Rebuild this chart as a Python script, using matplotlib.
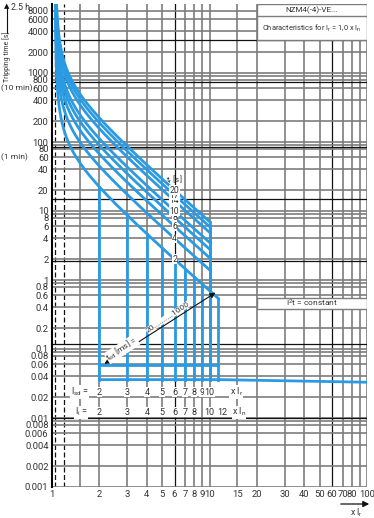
import numpy as np
import matplotlib
matplotlib.use('Agg')
import matplotlib.pyplot as plt
from matplotlib.patches import Rectangle

plt.rcParams['font.family'] = ['Liberation Sans Narrow', 'Roboto', 'DejaVu Sans']
plt.rcParams['mathtext.fontset'] = 'custom'
plt.rcParams['mathtext.rm'] = 'Roboto'
plt.rcParams['mathtext.it'] = 'Roboto'

BLUE = '#2a9be3'
GRAY = '#7d7d7d'
TXT = '#333333'

# curve parameters
tr_values = [2, 4, 6, 8, 10, 14, 17, 20]          # t_r [s] = time at 6 x Ir
isd_values = [2, 3, 4, 5, 6, 7, 8, 9, 10]         # short-time pick-up (x Ir)
ii_values = [2, 3, 4, 5, 6, 7, 8, 10, 12]         # instantaneous (x In)
tsd_upper = 0.058
tsd_lower = 0.036
tsd_end = 0.033
x_last = 11.4
bend_a = 1.05
bend_b = 0.3

x_ticks = [1, 2, 3, 4, 5, 6, 7, 8, 9, 10, 15, 20, 30, 40, 50, 60, 70, 80, 100]
y_ticks = [8000, 6000, 4000, 2000, 1000, 800, 600, 400, 200, 100, 80, 60, 40, 20,
           10, 8, 6, 4, 2, 1, 0.8, 0.6, 0.4, 0.2, 0.1, 0.08, 0.06, 0.04, 0.02,
           0.01, 0.008, 0.006, 0.004, 0.002, 0.001]
y_tick_labels = ['8000', '6000', '4000', '2000', '1000', '800', '600', '400', '200', '100',
                 '80', '60', '40', '20', '10', '8', '6', '4', '2', '1', '0.8', '0.6', '0.4',
                 '0.2', '0.1', '0.08', '0.06', '0.04', '0.02', '0.01', '0.008', '0.006',
                 '0.004', '0.002', '0.001']

xgrid_gray = [1.5, 2, 3, 4, 5, 7, 8, 9, 10, 15, 20, 30, 40, 50, 70, 80, 90, 100]
xgrid_black = [6, 60]
xgrid_dashed = [1.05, 1.2]
ygrid_gray = [m * 10.0 ** n for n in range(-3, 4) for m in (1, 2, 4, 6, 8, 0.9)]
ygrid_black = [3000, 750, 85, 15, 1.9, 0.12, 0.01]


def thermal(x, tr):
    f = (1 + bend_b / (x - bend_a)) / (1 + bend_b / (6 - bend_a))
    return tr * 36 / x ** 2 * f


fig = plt.figure(figsize=(3.74, 5.18), dpi=100)
W, H = 374, 518
ax = fig.add_axes([52 / W, 31 / H, 315 / W, 483 / H])
ax.set_xscale('log')
ax.set_yscale('log')
ax.set_xlim(1, 100)
ax.set_ylim(0.001, 10000)
for s in ['top', 'right', 'bottom']:
    ax.spines[s].set_visible(False)
ax.spines['left'].set_linewidth(1.5)
ax.spines['left'].set_zorder(6)

# grid
for v in xgrid_gray:
    ax.axvline(v, color=GRAY, lw=1.2, zorder=1)
for v in xgrid_black:
    ax.axvline(v, color='#111111', lw=0.9, zorder=1)
for v in xgrid_dashed:
    ax.axvline(v, color='#111111', lw=0.9, ls=(0, (4, 2)), zorder=1)
for v in ygrid_gray:
    if 0.001 <= v <= 10000:
        ax.axhline(v, color=GRAY, lw=1.2, zorder=1)
for v in ygrid_black:
    ax.axhline(v, color='#111111', lw=0.9, zorder=1)

# thermal curves
for tr in tr_values:
    xs = np.geomspace(bend_a + 1e-4, 12, 2000)
    ts = thermal(xs, tr)
    x_stop = x_last if tr == tr_values[0] else 10
    keep = (ts <= 12000) & (xs <= x_stop)
    ax.plot(xs[keep], ts[keep], color=BLUE, lw=2.0, zorder=3)
    ax.plot([x_stop, x_stop], [thermal(x_stop, tr), tsd_lower], color=BLUE, lw=2.0, zorder=3)

# short-time pick-up verticals
for isd in isd_values:
    ax.plot([isd, isd], [thermal(isd, tr_values[0]), tsd_lower], color=BLUE, lw=2.0, zorder=3)

# short-time delay levels
ax.plot([isd_values[0], x_last], [tsd_upper, tsd_upper], color=BLUE, lw=2.0, zorder=3)
ax.plot([isd_values[0], x_last, 100], [tsd_lower, tsd_lower, tsd_end], color=BLUE, lw=2.0, zorder=3)

# ticks
ax.set_xticks(x_ticks)
ax.set_xticklabels([str(v) for v in x_ticks])
ax.set_xticks([], minor=True)
ax.set_yticks(y_ticks)
ax.set_yticklabels(y_tick_labels)
ax.set_yticks([], minor=True)
ax.tick_params(length=0, labelsize=6.8, colors=TXT, pad=2.5)

bw = dict(facecolor='white', edgecolor='none', pad=0.2)

# t_r labels
ax.text(6, 23, r'$\mathrm{t_r}$ [s]', fontsize=5.8, color=TXT, ha='center', va='bottom', zorder=5)
for tr in tr_values:
    ax.text(6, tr, str(tr), fontsize=6.2, color=TXT, ha='center', va='center', bbox=bw, zorder=5)

# t_sd arrow
ax.annotate('', xy=(2.08, tsd_upper), xytext=(11.3, 0.69),
            arrowprops=dict(arrowstyle='<|-|>', color='#111111', lw=0.8, mutation_scale=8),
            zorder=5)
ax.text(2.78, 0.1, r'$\mathrm{t_{sd}}$ [ms] =', fontsize=6, color=TXT, rotation=33.5,
        ha='center', va='center', bbox=bw, zorder=6)
ax.text(5.45, 0.29, '20..........1000', fontsize=6, color=TXT, rotation=33.5,
        ha='center', va='center', bbox=bw, zorder=6)

# setting rows
ax.text(1.5, 0.0238, r'$\mathrm{I_{sd}}$ =', fontsize=6.5, color=TXT, ha='center', va='center', bbox=bw, zorder=5)
for v in isd_values:
    ax.text(v, 0.0238, str(v), fontsize=6.5, color=TXT, ha='center', va='center', bbox=bw, zorder=5)
ax.text(14.8, 0.0238, r'x $\mathrm{I_r}$', fontsize=6.5, color=TXT, ha='center', va='center', bbox=bw, zorder=5)
ax.text(1.53, 0.0122, r'$\mathrm{I_i}$ =', fontsize=6.5, color=TXT, ha='center', va='center', bbox=bw, zorder=5)
for v in ii_values:
    ax.text(v, 0.0122, str(v), fontsize=6.5, color=TXT, ha='center', va='center', bbox=bw, zorder=5)
ax.text(15.4, 0.0122, r'x $\mathrm{I_n}$', fontsize=6.5, color=TXT, ha='center', va='center', bbox=bw, zorder=5)

# boxes
ax.add_patch(Rectangle((20, 3000), 80, 7000, facecolor='white', edgecolor=GRAY, lw=1.0, zorder=4))
ax.plot([20, 100], [6700, 6700], color=GRAY, lw=1.0, zorder=4)
ax.text(44.7, 8185, 'NZM4(-4)-VE...', fontsize=5.8, color=TXT, ha='center', va='center', zorder=5)
ax.text(44.7, 4480, r'Characteristics for $\mathrm{I_r}$ = 1,0 x $\mathrm{I_n}$', fontsize=5.4,
        color=TXT, ha='center', va='center', zorder=5)
ax.add_patch(Rectangle((20, 0.38), 80, 0.17, facecolor='white', edgecolor=GRAY, lw=1.0, zorder=4))
ax.text(44.7, 0.457, r'$\mathrm{I^2}$t = constant', fontsize=6, color=TXT, ha='center', va='center', zorder=5)

# left-side annotations
ax.text(-0.162, 600, '(10 min)', transform=ax.get_yaxis_transform(), fontsize=6, color=TXT,
        ha='left', va='center')
ax.text(-0.162, 60, '(1 min)', transform=ax.get_yaxis_transform(), fontsize=6, color=TXT,
        ha='left', va='center')
fig.text(7 / W, 1 - 57 / H, 'Tripping time [s]', rotation=90, fontsize=5.0, color=TXT,
         ha='center', va='center')
fig.add_artist(plt.Line2D([7 / W, 7 / W], [1 - 33 / H, 1 - 6 / H], color='#111111', lw=0.8))
fig.text(7 / W, 1 - 6 / H, '\u25B2', fontsize=5, color='#111111', ha='center', va='center',
         family='DejaVu Sans')
fig.text(11 / W, 1 - 7 / H, '2.5 h', fontsize=6.3, color=TXT, ha='left', va='center')

# bottom x Ir arrow
ax.annotate('', xy=(372 / W, 1 - 504 / H), xytext=(338 / W, 1 - 504 / H), xycoords='figure fraction',
            arrowprops=dict(arrowstyle='-|>', color='#111111', lw=0.9, mutation_scale=9))
fig.text(356 / W, 1 - 513 / H, r'x $\mathrm{I_r}$', fontsize=6.3, color=TXT, ha='center', va='center')

fig.savefig('out.png', dpi=100)
